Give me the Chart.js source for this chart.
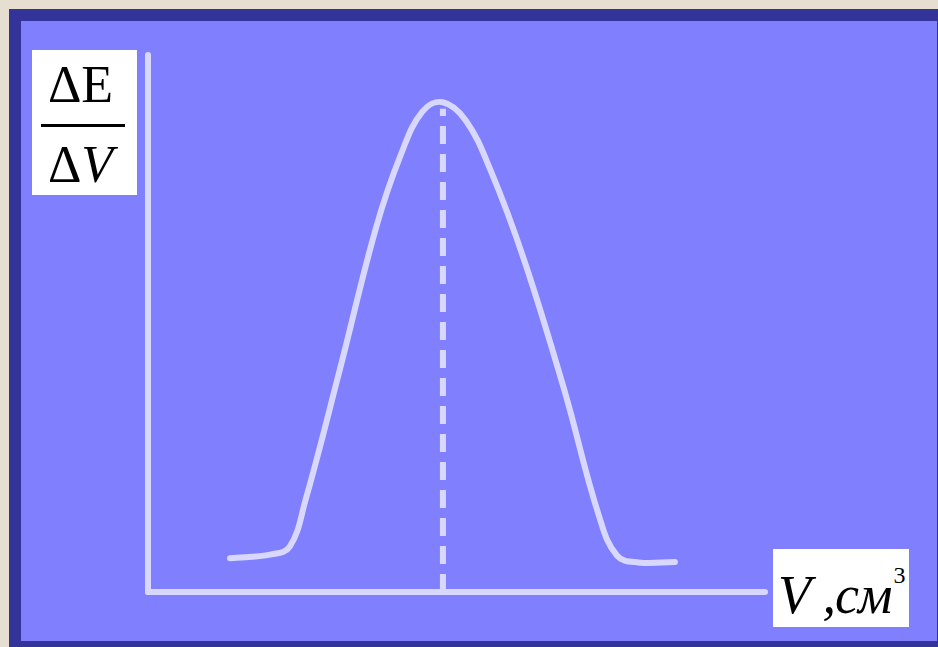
<!DOCTYPE html>
<html>
<head>
<meta charset="utf-8">
<script src="https://cdn.jsdelivr.net/npm/chart.js@4.4.0/dist/chart.umd.min.js"></script>
<style>
  body { margin: 0; background: #e6ded0; width: 938px; height: 647px; overflow: hidden; position: relative; }
  #frame { position: absolute; left: 9px; top: 9px; width: 929px; height: 638px; background: #333399; }
  #inner { position: absolute; left: 21px; top: 21px; width: 916px; height: 620px; background: #8080ff; }
  #chart { position: absolute; left: 0; top: 0; }
  .box { position: absolute; background: #fff; font-family: "Liberation Serif", "DejaVu Serif", serif; color: #000; }
  #ylab { left: 32px; top: 50px; width: 105px; height: 145px; }
  #ylab .num { position: absolute; left: -4px; width: 100%; text-align: center; font-size: 52px; line-height: 1; top: 9px; }
  #ylab .bar { position: absolute; left: 9px; width: 84px; top: 74px; height: 3px; background: #000; }
  #ylab .den { position: absolute; left: -4px; width: 100%; text-align: center; top: 89px; font-size: 52px; line-height: 1; }
  #xlab { left: 773px; top: 549px; width: 136px; height: 78px; font-size: 54px; line-height: 1; }
  #xlab .t { position: absolute; left: 5px; top: 14px; white-space: nowrap; letter-spacing: -1px; }
  #xlab sup { font-size: 24px; vertical-align: 30px; font-style: normal; color: #000; margin-left: 2px; }
</style>
</head>
<body>
<div id="frame"></div>
<div id="inner"></div>
<canvas id="chart" width="938" height="647"></canvas>
<div class="box" id="ylab">
  <div class="num">ΔE</div>
  <div class="bar"></div>
  <div class="den">Δ<i>V</i></div>
</div>
<div class="box" id="xlab"><span class="t"><i>V</i> <i>,см</i><sup>3</sup></span></div>
<script>
// объём титранта (усл. ед.)
const volume = [1.33, 2.00, 2.30, 2.55, 3.10, 3.70, 4.10, 4.45, 4.78,
  5.15, 5.55, 6.10, 6.75, 7.30, 7.60, 7.95, 8.54];
// ΔE/ΔV (усл. ед.)
const dEdV = [0.63, 0.70, 0.85, 1.70, 4.10, 6.80, 8.15, 8.95, 9.12,
  8.78, 7.86, 6.17, 3.75, 1.45, 0.68, 0.55, 0.56];
// точка эквивалентности
const equivVolume = 4.78;
const equivTop = 9.0;
const xMax = 10;
const yMax = 10;

const lineColor = '#d8d8ff';

const curve = volume.map((v, i) => ({ x: v, y: dEdV[i] }));

new Chart(document.getElementById('chart'), {
  type: 'line',
  data: {
    datasets: [
      {
        label: 'ось Y',
        data: [{ x: 0, y: 0 }, { x: 0, y: yMax }],
        borderColor: lineColor, borderWidth: 6, borderCapStyle: 'round',
        pointRadius: 0, tension: 0
      },
      {
        label: 'ось X',
        data: [{ x: 0, y: 0 }, { x: xMax, y: 0 }],
        borderColor: lineColor, borderWidth: 6, borderCapStyle: 'round',
        pointRadius: 0, tension: 0
      },
      {
        label: 'точка эквивалентности',
        data: [{ x: equivVolume, y: 0 }, { x: equivVolume, y: equivTop }],
        borderColor: lineColor, borderWidth: 6, borderDash: [18, 10],
        pointRadius: 0, tension: 0
      },
      {
        label: 'ΔE/ΔV',
        data: curve,
        borderColor: lineColor, borderWidth: 6, borderCapStyle: 'round', borderJoinStyle: 'round',
        pointRadius: 0, tension: 0.4
      }
    ]
  },
  options: {
    responsive: false,
    animation: false,
    layout: { padding: { left: 148, top: 55, right: 173, bottom: 55 } },
    scales: {
      x: { type: 'linear', min: 0, max: xMax, display: false },
      y: { type: 'linear', min: 0, max: yMax, display: false }
    },
    plugins: {
      legend: { display: false },
      tooltip: { enabled: false }
    },
    elements: { line: { fill: false } },
    clip: false
  }
});
</script>
</body>
</html>
